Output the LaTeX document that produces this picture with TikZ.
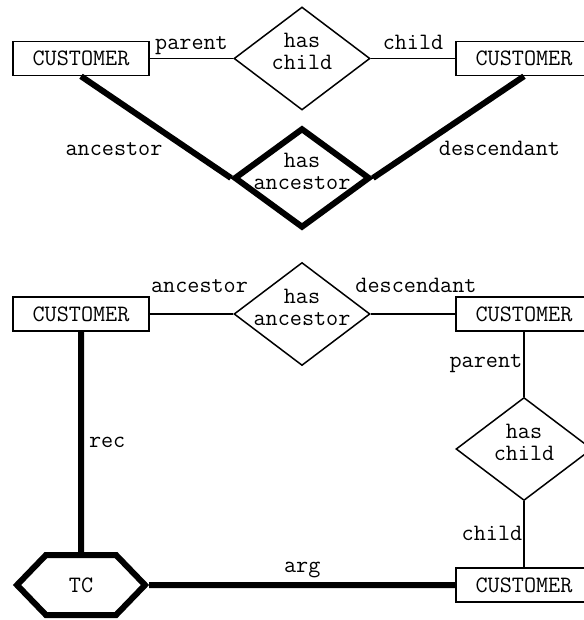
\documentclass[tikz,border=0pt]{standalone}
\usetikzlibrary{shapes.geometric, shapes.symbols}

\begin{document}
\begin{tikzpicture}[
    x=1pt, y=-1pt,
    font=\ttfamily\fontsize{23.5}{22}\selectfont,
    ent/.style={rectangle, draw, line width=1.5pt, minimum width=136pt, minimum height=34pt, inner sep=0pt},
    rel/.style={diamond, draw, line width=1.5pt, minimum width=136pt, minimum height=103pt, inner sep=0pt,
        label={[align=center, yshift=7pt]center:#1}},
    relx/.style={rel=#1, line width=6pt, minimum width=136pt, minimum height=100pt},
    fn/.style={signal, signal to=east and west, signal pointer angle=92, draw, line width=6pt,
        minimum width=128pt, minimum height=60pt, inner sep=0pt},
    line/.style={line width=1.5pt},
    bold/.style={line width=6pt},
    role/.style={inner sep=1pt}
]
\useasboundingbox (0,0) rectangle (583,620);
\node[ent] (lc1) at (81,58.5) {CUSTOMER};
\node[rel={has\\child}] (hc1) at (302,58.5) {};
\node[ent] (rc1) at (524,58.5) {CUSTOMER};
\node[relx={has\\ancestor}] (ha1) at (302,178) {};
\node[ent] (lc2) at (81,314) {CUSTOMER};
\node[rel={has\\ancestor}] (ha2) at (302,314) {};
\node[ent] (rc2) at (524,314) {CUSTOMER};
\node[rel={has\\child}] (hc2) at (524,449) {};
\node[ent] (rc3) at (524,585) {CUSTOMER};
\node[fn] (tc) at (81,585) {TC};
\draw[line] (lc1) -- node[role, anchor=base, yshift=9pt] {parent} (hc1);
\draw[line] (hc1) -- node[role, anchor=base, yshift=9pt] {child} (rc1);
\draw[bold] (lc1.south) -- node[role, anchor=base, xshift=-42pt, yshift=-28pt] {ancestor} (ha1.west);
\draw[bold] (ha1.east) -- node[role, anchor=base, xshift=51pt, yshift=-28pt] {descendant} (rc1.south);
\draw[line] (lc2) -- node[role, anchor=base, xshift=8pt, yshift=22pt] {ancestor} (ha2);
\draw[line] (ha2) -- node[role, anchor=base, xshift=3pt, yshift=22pt] {descendant} (rc2);
\draw[line] (rc2) -- node[role, anchor=base east, yshift=-3pt] {parent} (hc2);
\draw[line] (hc2) -- node[role, anchor=base east, yshift=-6pt] {child} (rc3);
\draw[bold] (lc2) -- node[role, anchor=base west, xshift=4pt, yshift=-6pt] {rec} (tc);
\draw[bold] (tc) -- node[role, anchor=base, yshift=13pt] {arg} (rc3);
\end{tikzpicture}
\end{document}
